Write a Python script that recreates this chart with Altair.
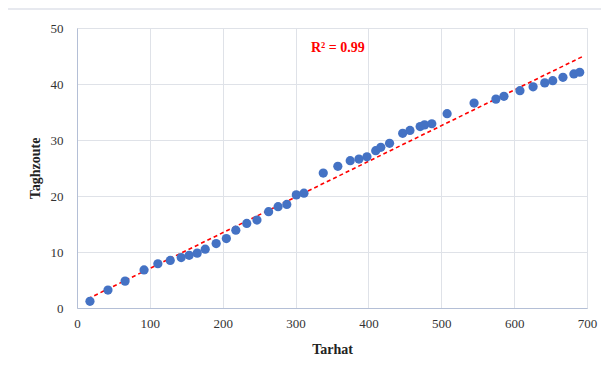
import altair as alt
import pandas as pd

tarhat = [17.8, 42.5, 66, 92, 111, 128, 143, 154, 165, 176, 191, 205, 218, 233, 247,
          263, 276, 288, 301, 311.5, 338, 358, 375, 387, 398, 410, 417, 429, 447, 457,
          471, 477, 487, 508, 545, 575, 586, 608, 626, 642, 653, 667, 682, 690]
taghzoute = [1.2, 3.2, 4.8, 6.8, 7.9, 8.5, 9.0, 9.4, 9.8, 10.5, 11.5, 12.4, 13.9, 15.1, 15.7,
             17.2, 18.1, 18.5, 20.2, 20.5, 24.1, 25.3, 26.3, 26.6, 27.0, 28.1, 28.7, 29.4, 31.2, 31.7,
             32.4, 32.7, 32.9, 34.7, 36.6, 37.3, 37.8, 38.8, 39.5, 40.2, 40.6, 41.2, 41.8, 42.1]
annot_text = ["R² = 0.99"]
annot_x = [358]
annot_y = [46.4]

df = pd.DataFrame({"Tarhat": tarhat, "Taghzoute": taghzoute})
ann = pd.DataFrame({"x": annot_x, "y": annot_y, "t": annot_text})

FONT = "Liberation Serif"
xscale = alt.Scale(domain=[0, 700], nice=False)
yscale = alt.Scale(domain=[0, 50], nice=False)

axis_common = dict(
    grid=True, ticks=False, domain=True, domainColor="#b4bfd6", gridColor="#dfe2e8",
    labelFont=FONT, labelFontSize=13, labelColor="#333333", labelFlush=False,
    titleFont=FONT, titleFontSize=14, titleFontWeight="bold", titleColor="#222222",
)

base = alt.Chart(df)

points = base.mark_circle(size=85, color="#4472C4", opacity=1).encode(
    x=alt.X("Tarhat:Q", scale=xscale,
            axis=alt.Axis(values=[0, 100, 200, 300, 400, 500, 600, 700], title="Tarhat",
                          labelPadding=9, titlePadding=12, **axis_common)),
    y=alt.Y("Taghzoute:Q", scale=yscale,
            axis=alt.Axis(values=[0, 10, 20, 30, 40, 50], title="Taghzoute",
                          labelPadding=14, titlePadding=8, **axis_common)),
)

trend = base.transform_regression("Tarhat", "Taghzoute", extent=[15, 694]).mark_line(
    color="#FF0000", strokeDash=[4, 3], strokeWidth=1.6
).encode(x=alt.X("Tarhat:Q", scale=xscale), y=alt.Y("Taghzoute:Q", scale=yscale))

text = alt.Chart(ann).mark_text(color="#FF0000", font=FONT, fontWeight="bold", fontSize=14).encode(
    x=alt.X("x:Q", scale=xscale), y=alt.Y("y:Q", scale=yscale), text="t:N"
)

frame_col = "#dfe2ea"
frame_top = alt.Chart(ann).mark_rule(color=frame_col, strokeWidth=1.5, clip=False).encode(
    x=alt.value(-69), x2=alt.value(540), y=alt.value(-19))

chart = alt.layer(frame_top, trend, points, text).properties(
    width=510, height=280,
    autosize=alt.AutoSizeParams(type="none"),
    padding={"left": 69, "top": 20, "right": 14, "bottom": 50},
).configure_view(stroke="#dfe2e8", strokeWidth=1).configure(background="white")

chart.save("out.html", embed_options={"renderer": "svg", "actions": False})
